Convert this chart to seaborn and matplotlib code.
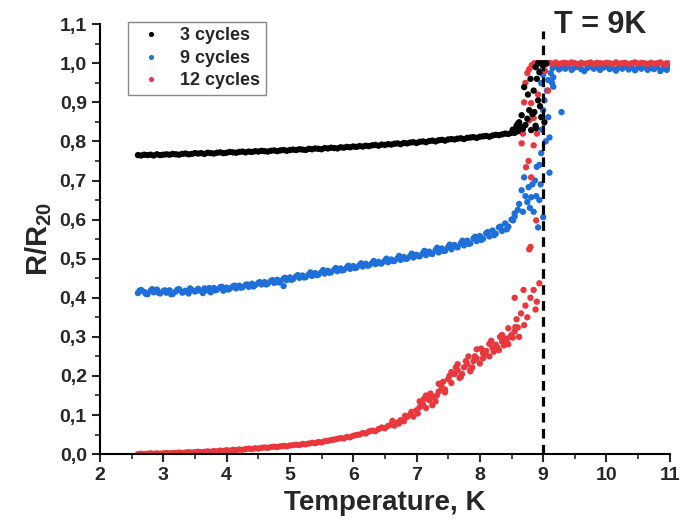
import pandas as pd
import seaborn as sns
import matplotlib.pyplot as plt
from matplotlib.ticker import MultipleLocator

# --- data ---
# common temperature grid of the smooth part (K)
t_base = [2.60, 2.65, 2.70, 2.75, 2.80, 2.85, 2.90, 2.95, 3.00, 3.05,
          3.10, 3.15, 3.20, 3.25, 3.30, 3.35, 3.40, 3.45, 3.50, 3.55,
          3.60, 3.65, 3.70, 3.75, 3.80, 3.85, 3.90, 3.95, 4.00, 4.05,
          4.10, 4.15, 4.20, 4.25, 4.30, 4.35, 4.40, 4.45, 4.50, 4.55,
          4.60, 4.65, 4.70, 4.75, 4.80, 4.85, 4.90, 4.95, 5.00, 5.05,
          5.10, 5.15, 5.20, 5.25, 5.30, 5.35, 5.40, 5.45, 5.50, 5.55,
          5.60, 5.65, 5.70, 5.75, 5.80, 5.85, 5.90, 5.95, 6.00, 6.05,
          6.10, 6.15, 6.20, 6.25, 6.30, 6.35, 6.40, 6.45, 6.50, 6.55,
          6.60, 6.65, 6.70, 6.75, 6.80, 6.85, 6.90, 6.95, 7.00, 7.05,
          7.10, 7.15, 7.20, 7.25, 7.30, 7.35, 7.40, 7.45, 7.50, 7.55,
          7.60, 7.65, 7.70, 7.75, 7.80, 7.85, 7.90, 7.95, 8.00, 8.05,
          8.10, 8.15, 8.20, 8.25, 8.30, 8.35, 8.40, 8.45, 8.50, 8.55,
          8.60]

r3_base = [0.765, 0.764, 0.766, 0.765, 0.766, 0.764, 0.767, 0.765, 0.766, 0.767,
           0.766, 0.768, 0.767, 0.766, 0.768, 0.769, 0.767, 0.768, 0.770, 0.769,
           0.770, 0.768, 0.771, 0.770, 0.769, 0.771, 0.772, 0.770, 0.771, 0.773,
           0.772, 0.771, 0.773, 0.774, 0.772, 0.774, 0.773, 0.775, 0.774, 0.776,
           0.775, 0.774, 0.776, 0.777, 0.775, 0.777, 0.778, 0.776, 0.778, 0.779,
           0.778, 0.780, 0.779, 0.778, 0.781, 0.780, 0.782, 0.781, 0.780, 0.783,
           0.782, 0.784, 0.783, 0.782, 0.785, 0.784, 0.786, 0.785, 0.787, 0.786,
           0.788, 0.787, 0.789, 0.788, 0.790, 0.791, 0.789, 0.792, 0.791, 0.793,
           0.792, 0.794, 0.795, 0.793, 0.796, 0.795, 0.797, 0.798, 0.796, 0.799,
           0.800, 0.798, 0.801, 0.802, 0.800, 0.803, 0.804, 0.802, 0.805, 0.806,
           0.805, 0.807, 0.808, 0.806, 0.809, 0.810, 0.811, 0.809, 0.812, 0.813,
           0.814, 0.812, 0.815, 0.817, 0.816, 0.818, 0.820, 0.819, 0.822, 0.824,
           0.826]

r9_base = [0.412, 0.420, 0.415, 0.409, 0.418, 0.414, 0.421, 0.411, 0.417, 0.413,
           0.419, 0.410, 0.416, 0.422, 0.413, 0.418, 0.411, 0.420, 0.416, 0.423,
           0.417, 0.424, 0.419, 0.414, 0.425, 0.421, 0.427, 0.418, 0.426, 0.423,
           0.429, 0.424, 0.431, 0.427, 0.433, 0.428, 0.436, 0.432, 0.438, 0.434,
           0.440, 0.436, 0.443, 0.438, 0.446, 0.442, 0.449, 0.445, 0.452, 0.448,
           0.455, 0.451, 0.457, 0.453, 0.460, 0.456, 0.463, 0.459, 0.466, 0.462,
           0.469, 0.465, 0.472, 0.468, 0.475, 0.471, 0.478, 0.474, 0.481, 0.477,
           0.484, 0.480, 0.487, 0.483, 0.489, 0.486, 0.492, 0.488, 0.495, 0.491,
           0.498, 0.494, 0.501, 0.497, 0.504, 0.500, 0.507, 0.503, 0.510, 0.506,
           0.514, 0.509, 0.518, 0.512, 0.522, 0.516, 0.526, 0.520, 0.530, 0.524,
           0.535, 0.529, 0.540, 0.534, 0.546, 0.539, 0.552, 0.545, 0.558, 0.551,
           0.565, 0.557, 0.572, 0.564, 0.580, 0.571, 0.590, 0.582, 0.600, 0.608,
           0.625]

r12_base = [0.000, 0.001, 0.000, 0.001, 0.002, 0.001, 0.002, 0.001, 0.002, 0.003,
            0.002, 0.003, 0.003, 0.004, 0.003, 0.004, 0.005, 0.004, 0.005, 0.006,
            0.005, 0.006, 0.007, 0.006, 0.008, 0.007, 0.009, 0.008, 0.010, 0.009,
            0.011, 0.010, 0.012, 0.011, 0.013, 0.014, 0.013, 0.015, 0.014, 0.016,
            0.017, 0.016, 0.018, 0.019, 0.018, 0.020, 0.021, 0.020, 0.022, 0.023,
            0.024, 0.023, 0.026, 0.025, 0.027, 0.029, 0.028, 0.031, 0.030, 0.033,
            0.034, 0.036, 0.037, 0.039, 0.041, 0.040, 0.044, 0.043, 0.047, 0.049,
            0.050, 0.054, 0.053, 0.058, 0.060, 0.059, 0.064, 0.068, 0.066, 0.072,
            0.076, 0.073, 0.081, 0.087, 0.084, 0.095, 0.101, 0.096, 0.112, 0.120,
            0.128, 0.118, 0.138, 0.146, 0.135, 0.160, 0.170, 0.158, 0.192, 0.182,
            0.205, 0.214, 0.198, 0.222, 0.230, 0.215, 0.238, 0.245, 0.232, 0.258,
            0.264, 0.250, 0.272, 0.280, 0.266, 0.288, 0.296, 0.281, 0.305, 0.314,
            0.324]

# second row of 9-cycle points (the blue band is thicker)
t9_fill = [2.625, 2.725, 2.825, 2.925, 3.025, 3.125, 3.225, 3.325, 3.425, 3.525,
           3.625, 3.725, 3.825, 3.925, 4.025, 4.125, 4.225, 4.325, 4.425, 4.525,
           4.625, 4.725, 4.825, 4.925, 5.025, 5.125, 5.225, 5.325, 5.425, 5.525,
           5.625, 5.725, 5.825, 5.925, 6.025, 6.125, 6.225, 6.325, 6.425, 6.525,
           6.625, 6.725, 6.825, 6.925, 7.025, 7.125, 7.225, 7.325, 7.425, 7.525,
           7.625, 7.725, 7.825, 7.925, 8.025, 8.125, 8.225, 8.325, 8.425, 8.525]
r9_fill = [0.418, 0.410, 0.422, 0.413, 0.419, 0.409, 0.421, 0.415, 0.424, 0.418,
           0.412, 0.425, 0.419, 0.428, 0.421, 0.431, 0.426, 0.434, 0.429, 0.440,
           0.434, 0.445, 0.439, 0.451, 0.446, 0.458, 0.452, 0.465, 0.458, 0.471,
           0.464, 0.476, 0.470, 0.482, 0.476, 0.488, 0.482, 0.494, 0.488, 0.500,
           0.494, 0.507, 0.500, 0.513, 0.507, 0.520, 0.513, 0.528, 0.520, 0.536,
           0.530, 0.546, 0.538, 0.556, 0.548, 0.568, 0.560, 0.582, 0.575, 0.598]

# transition region (scattered points near Tc)
t3_trans = [8.52, 8.55, 8.58, 8.60, 8.62, 8.64, 8.66, 8.68, 8.70, 8.72, 8.75, 8.76,
            8.78, 8.80, 8.81, 8.83, 8.85, 8.86, 8.88, 8.88, 8.89, 8.90, 8.92, 8.92,
            8.94, 8.95, 8.97, 8.97, 9.00, 9.02, 9.02, 9.05]
r3_trans = [0.830, 0.822, 0.840, 0.845, 0.849, 0.838, 0.867, 0.832, 0.939, 0.842, 0.858, 0.920,
            0.880, 0.960, 0.829, 0.870, 0.930, 0.875, 0.840, 0.990, 0.834, 0.960, 0.905, 1.000,
            0.977, 0.890, 0.862, 1.000, 0.995, 0.849, 1.000, 1.000]

t9_trans = [4.90, 8.55, 8.62, 8.66, 8.68, 8.70, 8.72, 8.75, 8.77, 8.79, 8.81, 8.83,
            8.85, 8.87, 8.89, 8.90, 8.92, 8.94, 8.94, 8.95, 8.96, 8.97, 8.97, 8.98,
            9.00, 9.00, 9.00, 9.02, 9.04, 9.06, 9.08, 9.08, 9.10, 9.10, 9.12, 9.14,
            9.16, 9.16, 9.29]
r9_trans = [0.430, 0.616, 0.640, 0.675, 0.620, 0.708, 0.660, 0.645, 0.683, 0.630, 0.657, 0.690,
            0.620, 0.700, 0.660, 0.735, 0.580, 0.650, 0.740, 0.980, 0.690, 0.770, 0.949, 0.830,
            0.606, 0.880, 0.970, 0.905, 0.800, 0.930, 0.862, 0.957, 0.810, 0.720, 0.975, 0.950,
            0.964, 0.940, 0.875]

t12_trans = [6.62, 6.72, 6.82, 6.92, 7.02, 7.05, 7.12, 7.15, 7.22, 7.25, 7.32, 7.35,
             7.42, 7.45, 7.52, 7.55, 7.62, 7.65, 7.68, 7.72, 7.78, 7.82, 7.85, 7.88,
             7.92, 7.95, 8.02, 8.05, 8.08, 8.15, 8.18, 8.22, 8.28, 8.32, 8.35, 8.38,
             8.42, 8.45, 8.48, 8.52, 8.56, 8.58, 8.62, 8.65, 8.69, 8.70, 8.72, 8.75,
             8.80, 8.85, 8.88, 8.90, 8.94, 8.55, 8.78, 8.80, 8.89, 8.81, 8.73, 8.77,
             8.85, 8.66, 8.78, 8.81, 8.92, 9.08, 8.70, 8.72, 8.75, 8.78, 8.82, 8.86,
             8.90, 8.95, 9.00, 9.03, 8.85, 8.90, 8.68]
r12_trans = [0.085, 0.078, 0.098, 0.108, 0.104, 0.135, 0.142, 0.150, 0.155, 0.125, 0.150, 0.180,
             0.185, 0.165, 0.200, 0.210, 0.222, 0.230, 0.195, 0.205, 0.238, 0.250, 0.212, 0.222,
             0.250, 0.268, 0.270, 0.245, 0.255, 0.282, 0.290, 0.262, 0.272, 0.300, 0.305, 0.278,
             0.290, 0.322, 0.300, 0.298, 0.325, 0.345, 0.300, 0.360, 0.420, 0.330, 0.380, 0.350,
             0.400, 0.420, 0.370, 0.390, 0.437, 0.400, 0.524, 0.530, 0.598, 0.708, 0.734, 0.750,
             0.790, 0.795, 0.854, 0.898, 0.920, 0.930, 0.900, 0.950, 0.975, 0.985, 0.995, 1.000,
             1.000, 1.000, 0.990, 0.980, 0.860, 0.820, 0.820]

# normal-state plateau above Tc
t_plat = [9.00, 9.05, 9.10, 9.15, 9.20, 9.25, 9.30, 9.35, 9.40, 9.45,
          9.50, 9.55, 9.60, 9.65, 9.70, 9.75, 9.80, 9.85, 9.90, 9.95,
          10.00, 10.05, 10.10, 10.15, 10.20, 10.25, 10.30, 10.35, 10.40, 10.45,
          10.50, 10.55, 10.60, 10.65, 10.70, 10.75, 10.80, 10.85, 10.90, 10.95,
          11.00]
r9_plat = [0.985, 0.990, 0.982, 0.988, 0.992, 0.984, 0.990, 0.986, 0.993, 0.983,
           0.989, 0.991, 0.985, 0.980, 0.988, 0.993, 0.986, 0.990, 0.983, 0.989,
           0.992, 0.985, 0.988, 0.981, 0.990, 0.986, 0.993, 0.984, 0.989, 0.982,
           0.990, 0.986, 0.992, 0.983, 0.988, 0.985, 0.991, 0.980, 0.987, 0.983,
           0.989]
r12_plat = [1.000, 0.998, 1.001, 0.999, 1.002, 0.998, 1.000, 1.001, 0.999, 1.002,
            1.000, 0.998, 1.001, 0.999, 1.000, 1.002, 0.998, 1.001, 1.000, 0.999,
            1.001, 1.000, 0.998, 1.002, 0.999, 1.000, 1.001, 0.998, 1.000, 1.002,
            0.999, 1.001, 1.000, 0.998, 1.001, 0.999, 1.000, 1.002, 0.998, 1.000,
            0.999]

labels = ['3 cycles', '9 cycles', '12 cycles']
colors = ['#000000', '#1f6fdb', '#e8383d']
x_ticks = [2, 3, 4, 5, 6, 7, 8, 9, 10, 11]
y_ticks = [0.0, 0.1, 0.2, 0.3, 0.4, 0.5, 0.6, 0.7, 0.8, 0.9, 1.0, 1.1]
y_ticklabels = ['0,0', '0,1', '0,2', '0,3', '0,4', '0,5', '0,6', '0,7', '0,8', '0,9', '1,0', '1,1']
tc = 9

# build one table; rows ordered blue, red, black so black is drawn on top
blue = pd.DataFrame({'T': t_base + t9_fill + t9_trans + t_plat[3:],
                     'R': r9_base + r9_fill + r9_trans + r9_plat[3:]})
blue['sample'] = labels[1]
red = pd.DataFrame({'T': t_base + t12_trans + t_plat, 'R': r12_base + r12_trans + r12_plat})
red['sample'] = labels[2]
black = pd.DataFrame({'T': t_base + t3_trans, 'R': r3_base + r3_trans})
black['sample'] = labels[0]
df = pd.concat([blue, red, black], ignore_index=True)

sns.set_style('ticks')
plt.rcParams['font.family'] = ['Liberation Sans', 'DejaVu Sans']
plt.rcParams['font.weight'] = 'bold'
plt.rcParams['mathtext.fontset'] = 'custom'
plt.rcParams['mathtext.rm'] = 'Liberation Sans:bold'
plt.rcParams['mathtext.bf'] = 'Liberation Sans:bold'

fig = plt.figure(figsize=(6.8, 5.25), dpi=100)
ax = fig.add_axes([0.147, 0.135, 0.838, 0.819])

sns.scatterplot(data=df, x='T', y='R', hue='sample', hue_order=labels,
                palette=colors, s=21, linewidth=0, ax=ax)

ax.axvline(tc, ymin=0, ymax=0.985, color='black', lw=2.3, ls=(0, (3, 2)))
ax.text(9.17, 1.097, 'T = 9K', fontsize=22, fontweight='bold', va='center', ha='left')

ax.set_xlim(2, 11)
ax.set_ylim(0, 1.1)
ax.set_xticks(x_ticks)
ax.set_xticklabels([str(v) for v in x_ticks])
ax.set_yticks(y_ticks)
ax.set_yticklabels(y_ticklabels)
ax.xaxis.set_minor_locator(MultipleLocator(0.5))
ax.yaxis.set_minor_locator(MultipleLocator(0.05))
ax.tick_params(axis='both', which='major', labelsize=14, width=1.5, length=6, direction='out')
ax.tick_params(axis='both', which='minor', width=1.2, length=3.5, direction='out')
for lab in ax.get_xticklabels() + ax.get_yticklabels():
    lab.set_fontweight('bold')

sns.despine(ax=ax)
for side in ['left', 'bottom']:
    ax.spines[side].set_linewidth(1.5)
    ax.spines[side].set_color('black')

ax.set_xlabel('Temperature, K', fontsize=20, fontweight='bold', labelpad=4)
ax.set_ylabel(r'$\mathbf{R/R_{20}}$', fontsize=21, labelpad=4)

leg = ax.legend(loc='upper left', bbox_to_anchor=(0.049, 1.005), borderaxespad=0,
                fancybox=False, edgecolor='#888888', framealpha=1,
                prop={'size': 13, 'weight': 'bold'}, handlelength=2.0,
                handletextpad=0.6, borderpad=0.3, labelspacing=0.3, markerscale=0.8)
leg.get_frame().set_linewidth(1.0)

fig.savefig('out.png', dpi=100)
